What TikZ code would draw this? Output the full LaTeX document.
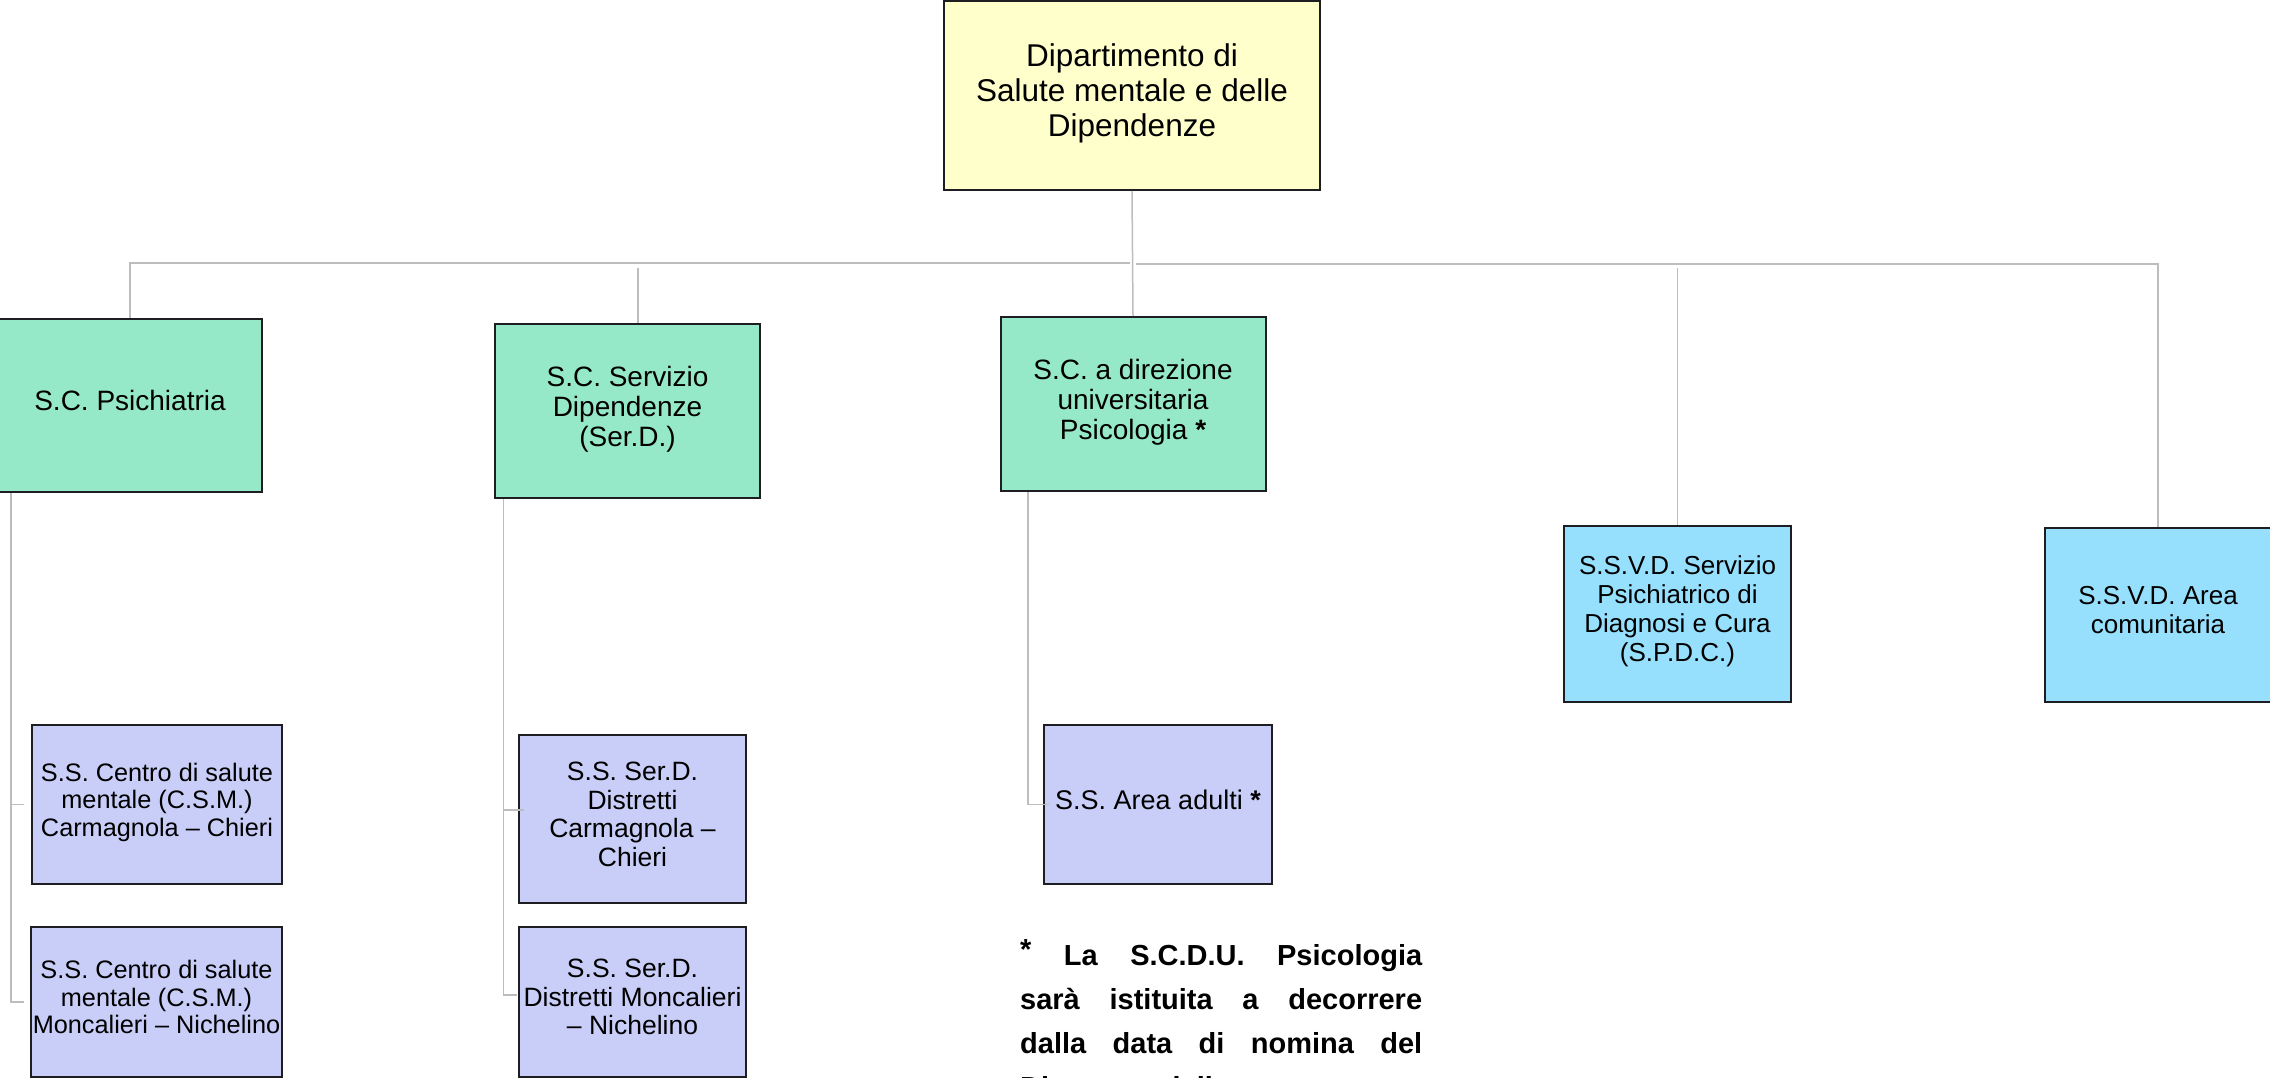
\documentclass[tikz,border=0pt]{standalone}
\usepackage{fontspec}
\setmainfont{Liberation Sans}
\definecolor{deptyellow}{HTML}{FFFFCC}
\definecolor{scgreen}{HTML}{96E9C8}
\definecolor{ssvdblue}{HTML}{96E0FE}
\definecolor{sslav}{HTML}{C8CEF8}
\definecolor{linkgray}{HTML}{BDBDBD}
\definecolor{edgedark}{HTML}{1E1E22}
\begin{document}
\begin{tikzpicture}[x=1pt,y=-1pt,
  unit/.style={draw=edgedark,line width=2pt,rectangle,align=center,inner sep=0pt,
    font=\fontsize{25.3}{27.5}\selectfont,text depth=10pt},
  dept/.style={unit,fill=deptyellow,font=\fontsize{31.5}{35}\selectfont},
  scbox/.style={unit,fill=scgreen,font=\fontsize{28}{30}\selectfont},
  ssvdbox/.style={unit,fill=ssvdblue,font=\fontsize{26}{29}\selectfont},
  ssbox/.style={unit,fill=sslav},
  conn/.style={draw=linkgray,line width=1.5pt}]
\useasboundingbox (0,0) rectangle (2270,1078);
\fill[white] (0,0) rectangle (2270,1078);

% department at the top
\node[dept,minimum width=376pt,minimum height=189pt] (top) at (1132,95.5)
  {Dipartimento di\\ Salute mentale e delle\\Dipendenze};

% complex and simple departmental units
\node[scbox,minimum width=264pt,minimum height=173pt] (psich) at (130,405.5)
  {S.C. Psichiatria};
\node[scbox,minimum width=265pt,minimum height=174pt] (serd) at (627.5,411)
  {S.C. Servizio\\Dipendenze\\(Ser.D.)};
\node[scbox,minimum width=265pt,minimum height=174pt] (psico) at (1133,404)
  {S.C. a direzione\\universitaria\\Psicologia \textbf{*}};
\node[ssvdbox,minimum width=227pt,minimum height=176pt] (spdc) at (1677.5,614)
  {S.S.V.D. Servizio\\Psichiatrico di\\Diagnosi e Cura\\(S.P.D.C.)};
\node[ssvdbox,minimum width=227pt,minimum height=174pt] (comun) at (2158,615)
  {S.S.V.D. Area\\comunitaria};

% simple units
\node[ssbox,minimum width=250pt,minimum height=159pt] (csm1) at (157,804.5)
  {S.S. Centro di salute\\mentale (C.S.M.)\\Carmagnola -- Chieri};
\node[ssbox,minimum width=251pt,minimum height=150pt] (csm2) at (156.5,1002)
  {S.S. Centro di salute\\mentale (C.S.M.)\\Moncalieri -- Nichelino};
\node[ssbox,minimum width=227pt,minimum height=168pt,font=\fontsize{26.5}{28.5}\selectfont] (serd1) at (632.5,819)
  {S.S. Ser.D.\\Distretti\\Carmagnola --\\Chieri};
\node[ssbox,minimum width=227pt,minimum height=150pt,font=\fontsize{26.5}{28.5}\selectfont] (serd2) at (632.5,1002)
  {S.S. Ser.D.\\Distretti Moncalieri\\-- Nichelino};
\node[ssbox,minimum width=228pt,minimum height=159pt,font=\fontsize{27}{29}\selectfont] (adulti) at (1158,804.5)
  {S.S. Area adulti \textbf{*}};

% footnote
\node[anchor=base west,inner sep=0pt,font=\fontsize{29}{44}\selectfont\bfseries] (note) at (1020,965)
  {\parbox[t]{402pt}{%
   \makebox[402pt][s]{\raisebox{6pt}{*} La S.C.D.U. Psicologia}\\
   \makebox[402pt][s]{sarà istituita a decorrere}\\
   \makebox[402pt][s]{dalla data di nomina del}\\
   \makebox[350pt][s]{Direttore della struttura}}};

% connectors
\coordinate (hubL) at (1130,263);
\coordinate (hubR) at (1136,264);
\coordinate (serdTap) at (638,268);
\coordinate (spdcTap) at (1677.5,268);
\coordinate (railA) at (11,0);
\coordinate (railB) at (503.5,0);
\coordinate (railC) at (1028,0);

\draw[conn] (top.south) -- (psico.north);
\draw[conn] (hubL) -| (psich.north);
\draw[conn] (hubR) -| (comun.north);
\draw[conn] (serdTap) -- (serdTap |- serd.north);
\draw[conn] (spdcTap) -- (spdc.north);

\draw[conn] (psich.south -| railA) |- ([xshift=-6pt]csm2.west);
\draw[conn] (railA |- csm1.west) -- ([xshift=-7pt]csm1.west);
\draw[conn] (serd.south -| railB) |- ([yshift=7pt,xshift=-1pt]serd2.west);
\draw[conn] ([yshift=9pt]railB |- serd1.west) -- ([yshift=9pt,xshift=6pt]serd1.west);
\draw[conn] (psico.south -| railC) |- ([xshift=6pt]adulti.west);
\end{tikzpicture}
\end{document}
